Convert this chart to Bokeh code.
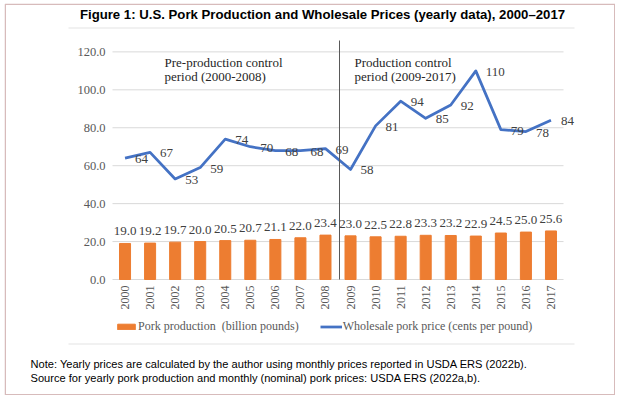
from bokeh.plotting import figure
from bokeh.models import (ColumnDataSource, Range1d, Label, LabelSet, BoxAnnotation,
                          Legend, LegendItem)
from bokeh.embed import file_html
from bokeh.resources import INLINE
import math

# ---- data ----
years = ["2000", "2001", "2002", "2003", "2004", "2005", "2006", "2007", "2008",
         "2009", "2010", "2011", "2012", "2013", "2014", "2015", "2016", "2017"]
production = [19.0, 19.2, 19.7, 20.0, 20.5, 20.7, 21.1, 22.0, 23.4,
              23.0, 22.5, 22.8, 23.3, 23.2, 22.9, 24.5, 25.0, 25.6]
price = [64, 67, 53, 59, 74, 70, 68, 68, 69,
         58, 81, 94, 85, 92, 110, 79, 78, 84]
y_ticks = [0, 20, 40, 60, 80, 100, 120]
y_top = 126
control_start = "2009"

title_text = "Figure 1: U.S. Pork Production and Wholesale Prices (yearly data), 2000\u20132017"
period1 = ["Pre-production control", "period (2000-2008)"]
period2 = ["Production control", "period (2009-2017)"]
legend_labels = ["Pork production  (billion pounds)", "Wholesale pork price (cents per pound)"]
notes = ["Note: Yearly prices are calculated by the author using monthly prices reported in USDA ERS (2022b).",
         "Source for yearly pork production and monthly (nominal) pork prices: USDA ERS (2022a,b)."]

n = len(years)
xpos = list(range(n))
src = ColumnDataSource(dict(
    x=xpos, year=years, prod=production, price=price,
    prod_lbl=["%.1f" % v for v in production],
    price_lbl=["%d" % v for v in price],
))
ysrc = ColumnDataSource(dict(y=y_ticks, lbl=["%.1f" % v for v in y_ticks],
                             x0=[-0.5] * len(y_ticks), x1=[n - 0.5] * len(y_ticks)))

SERIF = "Liberation Serif"
SANS = "Liberation Sans"
ORANGE = "#ED7D31"
BLUE = "#4472C4"
GRAY = "#595959"
FRAME_GRAY = "#E3E3E3"

# ---- geometry (page pixels) ----
W, H = 611, 392          # canvas, placed at page (4, 3)
OX, OY = 4, 3
PLOT_L, PLOT_R, PLOT_T, PLOT_B = 112, 563, 40, 279
px_x = (PLOT_R - PLOT_L) / n
px_y = (PLOT_B - PLOT_T) / y_top
x_start = -0.5 - (PLOT_L - OX) / px_x
x_end = -0.5 + (OX + W - PLOT_L) / px_x
y_start = -(OY + H - PLOT_B) / px_y
y_end = y_top + (PLOT_T - OY) / px_y


def sx(page_x):
    return page_x - OX


def sy(page_y):
    return OY + H - page_y


p = figure(width=W, height=H, x_range=Range1d(x_start, x_end), y_range=Range1d(y_start, y_end),
           x_axis_type=None, y_axis_type=None, min_border=0, margin=(OY, 0, 0, OX),
           output_backend="svg", toolbar_location=None)
p.outline_line_color = None
p.background_fill_color = "white"
p.border_fill_color = "white"

# gridlines
p.segment(x0="x0", x1="x1", y0="y", y1="y", source=ysrc, line_color="#D9D9D9", line_width=1)

# y tick labels
p.add_layout(LabelSet(x=-0.5, y="y", text="lbl", source=ysrc, x_offset=-7,
                      text_align="right", text_baseline="middle", text_font=SERIF,
                      text_font_size="12.5px", text_color=GRAY))
# x tick labels (rotated)
p.add_layout(LabelSet(x="x", y=0, text="year", source=src, angle=math.pi / 2, y_offset=-6,
                      text_align="right", text_baseline="middle", text_font=SERIF,
                      text_font_size="12px", text_color=GRAY))

bars = p.vbar(x="x", top="prod", bottom=0, width=0.44, source=src,
              fill_color=ORANGE, line_color=ORANGE)
line = p.line(x="x", y="price", source=src, line_color=BLUE, line_width=2.75, line_join="round")

p.add_layout(LabelSet(x="x", y="prod", text="prod_lbl", source=src, text_align="center",
                      text_baseline="alphabetic", y_offset=8, text_font=SERIF,
                      text_font_size="13px", text_color="#404040"))
p.add_layout(LabelSet(x="x", y="price", text="price_lbl", source=src, text_align="left",
                      text_baseline="middle", x_offset=10, y_offset=-1, text_font=SERIF,
                      text_font_size="13px", text_color="#404040"))

# divider between the two periods
xb = years.index(control_start) - 0.44
p.segment(x0=[xb], x1=[xb], y0=[0], y1=[y_top], line_color="#595959", line_width=1)

for i, t in enumerate(period1):
    p.add_layout(Label(x=sx(164), y=sy(62 + 14 * i), x_units="screen", y_units="screen", text=t,
                       text_font=SERIF, text_font_size="13px", text_color="#262626",
                       text_baseline="middle"))
for i, t in enumerate(period2):
    p.add_layout(Label(x=sx(354), y=sy(62 + 14 * i), x_units="screen", y_units="screen", text=t,
                       text_font=SERIF, text_font_size="13px", text_color="#262626",
                       text_baseline="middle"))

legend = Legend(items=[LegendItem(label=legend_labels[0], renderers=[bars]),
                       LegendItem(label=legend_labels[1], renderers=[line])],
                orientation="horizontal", location=(sx(115), sy(320) - 14),
                glyph_width=22, glyph_height=7,
                label_height=14, label_standoff=1, spacing=21, padding=0, margin=0,
                border_line_color=None, background_fill_alpha=0,
                label_text_font=SERIF, label_text_font_size="12px", label_text_color=GRAY)
p.add_layout(legend)


def screen_box(l, r, b, t, **kw):
    p.add_layout(BoxAnnotation(left=l, right=r, bottom=b, top=t,
                               left_units="screen", right_units="screen",
                               bottom_units="screen", top_units="screen", **kw))


# faint chart-area rules (top and bottom)
screen_box(sx(68), sx(574), sy(28), sy(27), fill_color=FRAME_GRAY, fill_alpha=1, line_color=None)
screen_box(sx(68), sx(574), sy(344), sy(343), fill_color=FRAME_GRAY, fill_alpha=1, line_color=None)
# outer dark-red border
screen_box(0.75, W - 0.75, 0.75, H - 0.75, fill_alpha=0, line_color="#7B1F1F", line_width=1.5)

p.add_layout(Label(x=sx(322), y=sy(14), x_units="screen", y_units="screen", text=title_text,
                   text_font=SANS, text_font_style="bold", text_font_size="13.2px",
                   text_color="black", text_align="center", text_baseline="middle"))
for i, t in enumerate(notes):
    p.add_layout(Label(x=sx(30), y=sy(363 + 14 * i), x_units="screen", y_units="screen", text=t,
                       text_font=SANS, text_font_size="11.1px", text_color="black",
                       text_baseline="middle"))

open("out.html", "w").write(file_html(p, INLINE))
